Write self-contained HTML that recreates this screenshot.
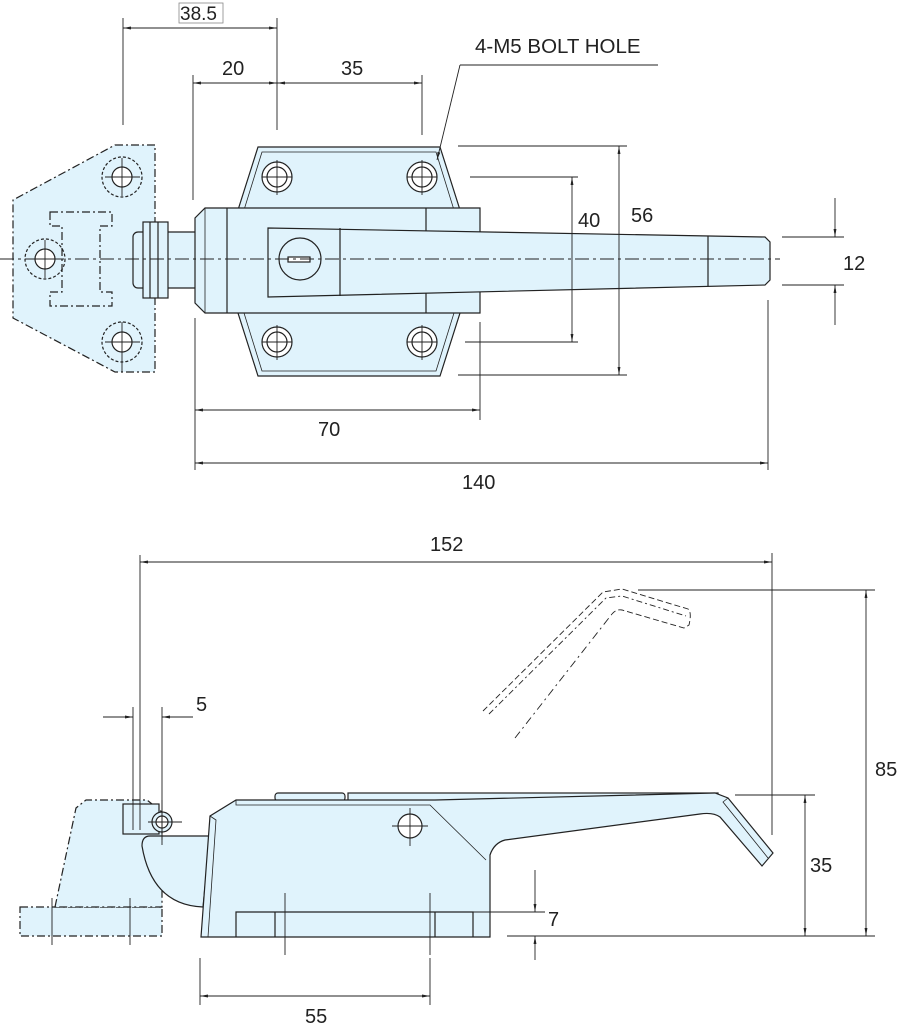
<!DOCTYPE html>
<html><head><meta charset="utf-8"><style>
html,body{margin:0;padding:0;background:#fff;}
svg{display:block;font-family:"Liberation Sans",sans-serif;}
</style></head><body>
<svg width="900" height="1025" viewBox="0 0 900 1025" xmlns="http://www.w3.org/2000/svg">
<defs>
<marker id="a" viewBox="0 0 10 10" refX="10" refY="5" markerWidth="10" markerHeight="8" orient="auto-start-reverse" markerUnits="userSpaceOnUse"><path d="M0,3.2 L10,5 L0,6.8 Z" fill="#222"/></marker>
</defs>
<g stroke="#222" stroke-width="1.2" fill="#e0f3fc">
<polygon points="115,145 155,145 155,372 115,372 13,318 13,200" stroke-dasharray="8,3,2,3"/>
<path d="M50,212 H112 V226 H100 V292 H112 V306 H50 V292 H62 V226 H50 Z" fill="none" stroke-dasharray="8,3,2,3"/>
<polygon points="258,147 440,147 460,210 460,313 440,376 258,376 238,313 238,210"/>
<polygon points="262,152 436,152 454,210 454,313 436,371 262,371 244,313 244,210" fill="none" stroke-width="0.8"/>
<rect x="133" y="232" width="75" height="56" rx="5"/>
<rect x="143" y="222" width="25" height="76"/>
<line x1="150" y1="222" x2="150" y2="298"/><line x1="158" y1="222" x2="158" y2="298"/>
<polygon points="205,208 480,208 480,313 205,313 195,303 195,218"/>
<line x1="227" y1="208" x2="227" y2="313"/>
<line x1="426" y1="208" x2="426" y2="313"/>
<line x1="205" y1="208" x2="205" y2="313" stroke-width="0.8"/>
<polygon points="268,228 765,237 770,242 770,280 765,285 268,297"/>
<line x1="340" y1="228" x2="340" y2="296"/>
<line x1="708" y1="236" x2="708" y2="286"/>
<circle cx="300" cy="259" r="21"/>
<rect x="288" y="257" width="22" height="5" fill="#fff"/>
<g fill="#fff">
<circle cx="277" cy="177" r="15"/><circle cx="277" cy="177" r="10"/>
<circle cx="422" cy="177" r="15"/><circle cx="422" cy="177" r="10"/>
<circle cx="277" cy="342" r="15"/><circle cx="277" cy="342" r="10"/>
<circle cx="422" cy="342" r="15"/><circle cx="422" cy="342" r="10"/>
<circle cx="122" cy="177" r="20" fill="none" stroke-dasharray="3,2"/><circle cx="122" cy="177" r="10"/>
<circle cx="122" cy="342" r="20" fill="none" stroke-dasharray="3,2"/><circle cx="122" cy="342" r="10"/>
<circle cx="45" cy="259" r="20" fill="none" stroke-dasharray="3,2"/><circle cx="45" cy="259" r="10"/>
</g>
</g>
<g stroke="#222" stroke-width="0.9" fill="none">
<line x1="0" y1="259" x2="780" y2="259" stroke-dasharray="14,4,3,4"/>
<path d="M262,177H292M407,177H437M262,342H292M407,342H437M277,160V195M422,160V195M277,325V360M422,325V360M105,177H140M105,342H140M122,158V196M122,322V372M28,259H62M45,240V278"/>
<path d="M123,18V125M277,18V130M193,75V200M422,75V135M195,318V470M480,322V420M768,300V470
M470,177H578M465,342H578M458,146H627M458,375H627M782,237H844M782,285H844M460,65H658"/>
<line x1="123" y1="28" x2="277" y2="28" marker-start="url(#a)" marker-end="url(#a)"/>
<line x1="193" y1="83" x2="277" y2="83" marker-start="url(#a)" marker-end="url(#a)"/>
<line x1="277" y1="83" x2="422" y2="83" marker-start="url(#a)" marker-end="url(#a)"/>
<line x1="572" y1="177" x2="572" y2="342" marker-start="url(#a)" marker-end="url(#a)"/>
<line x1="619" y1="146" x2="619" y2="375" marker-start="url(#a)" marker-end="url(#a)"/>
<line x1="835" y1="198" x2="835" y2="237" marker-end="url(#a)"/>
<line x1="835" y1="325" x2="835" y2="285" marker-end="url(#a)"/>
<line x1="195" y1="410" x2="480" y2="410" marker-start="url(#a)" marker-end="url(#a)"/>
<line x1="195" y1="463" x2="768" y2="463" marker-start="url(#a)" marker-end="url(#a)"/>
<line x1="460" y1="65" x2="437" y2="160" marker-end="url(#a)"/>
</g>
<rect x="179" y="3" width="44" height="20" fill="none" stroke="#888" stroke-width="0.8"/>
<g font-size="20" fill="#222">
<text x="180" y="20" font-size="19">38.5</text>
<text x="222" y="75">20</text>
<text x="341" y="75">35</text>
<text x="475" y="53" font-size="20.5">4-M5 BOLT HOLE</text>
<text x="578" y="227">40</text>
<text x="631" y="222">56</text>
<text x="843" y="270">12</text>
<text x="318" y="436">70</text>
<text x="462" y="489">140</text>
<text x="430" y="551">152</text>
<text x="196" y="711">5</text>
<text x="875" y="776">85</text>
<text x="810" y="872">35</text>
<text x="548" y="926">7</text>
<text x="305" y="1023">55</text>
</g>
<g stroke="#222" stroke-width="1.2" fill="#e0f3fc">
<rect x="20" y="907" width="142" height="29" stroke-dasharray="8,3,2,3"/>
<polygon points="55,907 76,808 86,800 147,800 162,812 162,907" stroke-dasharray="8,3,2,3"/>
<rect x="123" y="804" width="36" height="30"/>
<circle cx="162" cy="822" r="10"/>
<circle cx="162" cy="822" r="6" fill="#fff"/>
<path d="M150,836 L210,836 L203,907 Q152,905 142,846 Q142,836 150,836 Z"/>
<rect x="275" y="793" width="70" height="8" rx="3"/>
<rect x="348" y="793" width="370" height="8"/>
<path d="M201,937 L210,816 L236,800 L435,800 L715,793 L728,798 L773,853 L762,866 L720,817 Q713,812 700,814 L505,840 Q494,843 490,855 L490,937 Z"/>
<path d="M210,816 L216,820 L208,937 M236,800 L236,805 L430,805 L486,860 M728,798 L723,802 L768,858" fill="none" stroke-width="0.8"/>
<path d="M236,937 V912 H473 V937 M275,937 V912 M435,937 V912" fill="none"/>
<circle cx="410" cy="826" r="12" fill="#fff"/>
</g>
<g stroke="#222" stroke-width="0.9" fill="none">
<path d="M483,711 L603,592 L622,589 L688,609 Q692,612 689,625 L684,628 L622,610 Q616,609 612,614" stroke-dasharray="6,3"/>
<path d="M489,714 L606,598 L622,596 L686,616" stroke-dasharray="6,3,2,3"/>
<path d="M515,738 L612,614" stroke-dasharray="8,4,2,4"/>
<path d="M392,826H428M410,808V846M148,822H182M162,800V845M285,893V955M430,893V955M52,898V945M130,898V945"/>
<path d="M140,555V830M772,553V835M638,590H875M735,795H815M507,936H875M470,912H545M133,707V830M162,707V840M200,958V1005M430,958V1005"/>
<line x1="140" y1="562" x2="772" y2="562" marker-start="url(#a)" marker-end="url(#a)"/>
<line x1="866" y1="590" x2="866" y2="936" marker-start="url(#a)" marker-end="url(#a)"/>
<line x1="805" y1="795" x2="805" y2="936" marker-start="url(#a)" marker-end="url(#a)"/>
<line x1="535" y1="870" x2="535" y2="912" marker-end="url(#a)"/>
<line x1="535" y1="960" x2="535" y2="936" marker-end="url(#a)"/>
<line x1="103" y1="717" x2="133" y2="717" marker-end="url(#a)"/>
<line x1="193" y1="717" x2="162" y2="717" marker-end="url(#a)"/>
<line x1="200" y1="996" x2="430" y2="996" marker-start="url(#a)" marker-end="url(#a)"/>
</g>
</svg>
</body></html>
